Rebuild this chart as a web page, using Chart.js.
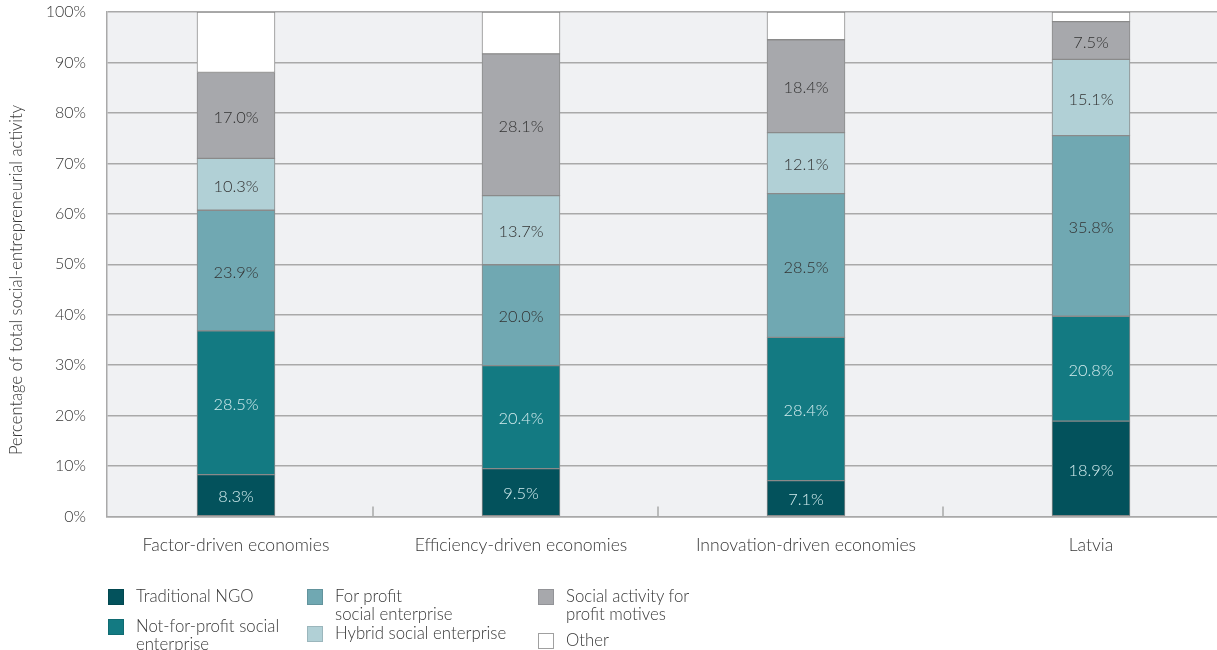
<!DOCTYPE html>
<html>
<head>
<meta charset="utf-8">
<script src="https://cdn.jsdelivr.net/npm/chart.js@4/dist/chart.umd.min.js"></script>
<style>
    html, body { margin: 0; padding: 0; background: #fff; }
    #wrap { position: relative; width: 1217px; height: 650px; overflow: hidden; font-family: Lato, 'Open Sans', sans-serif; font-weight: 300; color: #383838; }
    #chart { position: absolute; left: 0; top: 0; }
    .lg { position: absolute; font-size: 16.8px; line-height: 18px; white-space: nowrap; }
    .sw { position: absolute; width: 14px; height: 14px; border: 1px solid rgba(0,0,0,0.12); }
</style>
</head>
<body>
<div id="wrap">
    <canvas id="chart" width="1217" height="650"></canvas>
    <div id="legend"></div>
</div>
<script>
// Social-entrepreneurial activity by type, stacked to 100%

const categories = ['Factor-driven economies', 'Efficiency-driven economies', 'Innovation-driven economies', 'Latvia'];

const traditionalNgo = [8.3, 9.5, 7.1, 18.9];
const notForProfit = [28.5, 20.4, 28.4, 20.8];
const forProfit = [23.9, 20.0, 28.5, 35.8];
const hybrid = [10.3, 13.7, 12.1, 15.1];
const socialForProfit = [17.0, 28.1, 18.4, 7.5];
const other = [12.0, 8.3, 5.5, 1.9];

const yTicks = [0, 10, 20, 30, 40, 50, 60, 70, 80, 90, 100];

const series = [
    { label: 'Traditional NGO', data: traditionalNgo, color: '#03525c', text: '#d3ecee' },
    { label: 'Not-for-profit social enterprise', data: notForProfit, color: '#137a82', text: '#d3ecee' },
    { label: 'For profit social enterprise', data: forProfit, color: '#70a8b2', text: '#333333' },
    { label: 'Hybrid social enterprise', data: hybrid, color: '#b1d0d6', text: '#333333' },
    { label: 'Social activity for profit motives', data: socialForProfit, color: '#a7a8ac', text: '#333333' },
    { label: 'Other', data: other, color: '#ffffff', text: null }
];

const FONT = 'Lato, "Open Sans", sans-serif';
Chart.defaults.font.family = FONT;
Chart.defaults.font.size = 16;
Chart.defaults.font.weight = 300;
Chart.defaults.color = '#383838';

// plot background
const plotBg = {
    id: 'plotBg',
    beforeDraw(chart) {
        const { ctx, chartArea: a } = chart;
        ctx.save();
        ctx.fillStyle = '#f0f1f3';
        ctx.fillRect(a.left, a.top, a.right - a.left, a.bottom - a.top);
        ctx.restore();
    }
};

// short separators between the groups, rising from the base line
const groupTicks = {
    id: 'groupTicks',
    beforeDatasetsDraw(chart) {
        const { ctx, chartArea: a, scales: { x } } = chart;
        ctx.save();
        ctx.strokeStyle = '#a9a9a9';
        ctx.lineWidth = 1.5;
        for (let i = 0; i < categories.length - 1; i++) {
            const px = Math.round(x.getPixelForValue(i + 0.48));
            ctx.beginPath();
            ctx.moveTo(px, a.bottom);
            ctx.lineTo(px, a.bottom - 10);
            ctx.stroke();
        }
        ctx.restore();
    }
};

// value labels in the middle of each segment
const segmentLabels = {
    id: 'segmentLabels',
    afterDatasetsDraw(chart) {
        const { ctx } = chart;
        ctx.save();
        ctx.font = '300 16.4px ' + FONT;
        ctx.textAlign = 'center';
        ctx.textBaseline = 'middle';
        series.forEach((s, di) => {
            if (!s.text) return;
            chart.getDatasetMeta(di).data.forEach((bar, i) => {
                ctx.fillStyle = s.text;
                ctx.fillText(s.data[i].toFixed(1) + '%', bar.x, (bar.y + bar.base) / 2 + 2);
            });
        });
        ctx.restore();
    }
};

// rotated y axis title
const yTitle = {
    id: 'yTitle',
    afterDraw(chart) {
        const { ctx } = chart;
        ctx.save();
        ctx.translate(17, 280);
        ctx.rotate(-Math.PI / 2);
        ctx.font = '300 16.6px ' + FONT;
        ctx.fillStyle = '#383838';
        ctx.textAlign = 'center';
        ctx.textBaseline = 'middle';
        ctx.fillText('Percentage of total social-entrepreneurial activity', 0, 0);
        ctx.restore();
    }
};

new Chart(document.getElementById('chart'), {
    type: 'bar',
    data: {
        datasets: series.map(s => ({
            label: s.label,
            data: s.data.map((v, i) => ({ x: i, y: v })),
            backgroundColor: s.color,
            borderColor: '#8a8a8a',
            borderWidth: 1,
            borderSkipped: false,
            barThickness: 78
        }))
    },
    options: {
        responsive: false,
        animation: false,
        layout: { padding: { left: 0, right: 0, top: 12, bottom: 93.5 } },
        plugins: { legend: { display: false }, tooltip: { enabled: false } },
        scales: {
            x: {
                type: 'linear',
                stacked: true,
                offset: false,
                min: -0.4526,
                max: 3.4421,
                afterBuildTicks: s => { s.ticks = categories.map((c, i) => ({ value: i })); },
                afterFit: s => { s.height = 40; s.paddingLeft = 0; s.paddingRight = 0; },
                grid: { display: false, drawTicks: false, offset: false },
                border: { display: true, color: '#a9a9a9', width: 1.5 },
                ticks: { padding: 18, autoSkip: false, maxRotation: 0, font: { size: 17.6 }, callback: v => categories[v] }
            },
            y: {
                stacked: true,
                min: 0,
                max: 100,
                afterBuildTicks: s => { s.ticks = yTicks.map(v => ({ value: v })); },
                afterFit: s => { s.width = 107; s.paddingTop = 0; s.paddingBottom = 0; },
                grid: { color: '#a9a9a9', lineWidth: 1.5, drawTicks: false },
                border: { display: true, color: '#a9a9a9', width: 1.5 },
                ticks: { padding: 21, callback: v => v + '%' }
            }
        }
    },
    plugins: [plotBg, groupTicks, segmentLabels, yTitle]
});

// legend laid out in three columns
const legendItems = [
    { s: 0, left: 108, top: 589, lines: ['Traditional NGO'] },
    { s: 1, left: 108, top: 619, lines: ['Not-for-profit social', 'enterprise'] },
    { s: 2, left: 307, top: 589, lines: ['For profit', 'social enterprise'] },
    { s: 3, left: 307, top: 626, lines: ['Hybrid social enterprise'] },
    { s: 4, left: 538, top: 589, lines: ['Social activity for', 'profit motives'] },
    { s: 5, left: 538, top: 633, lines: ['Other'] }
];
const legendEl = document.getElementById('legend');
legendEl.innerHTML = legendItems.map(it => {
    const s = series[it.s];
    const border = s.color === '#ffffff' ? 'border-color:#a0a0a0;' : '';
    return `<div class="sw" style="left:${it.left}px;top:${it.top}px;background:${s.color};${border}"></div>` +
        `<div class="lg" style="left:${it.left + 28}px;top:${it.top - 2}px;">${it.lines.join('<br>')}</div>`;
}).join('');
</script>
</body>
</html>
